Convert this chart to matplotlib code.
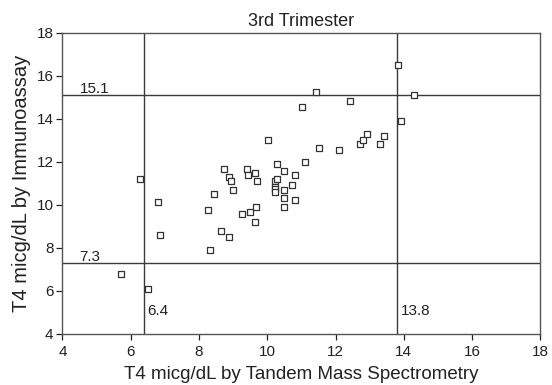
import matplotlib
matplotlib.use("Agg")
import matplotlib.pyplot as plt

plt.rcParams['font.family'] = ['Liberation Sans', 'DejaVu Sans']

# T4 by tandem mass spectrometry (x) vs immunoassay (y)
ms_t4 = [5.71, 6.50, 6.28, 6.81, 6.85, 8.26, 8.44, 8.65, 8.89, 8.33,
         8.72, 8.87, 8.94, 9.01, 9.42, 9.45, 9.63, 9.70, 9.25, 9.48,
         9.67, 9.63, 10.01, 10.29, 10.22, 10.29, 10.22, 10.22, 10.22, 10.50,
         10.50, 10.50, 10.50, 10.72, 10.82, 10.82, 11.03, 11.10, 11.42, 11.52,
         12.11, 12.42, 12.71, 12.80, 12.91, 13.29, 13.41, 13.82, 13.92, 14.31]
ia_t4 = [6.77, 6.09, 11.20, 10.12, 8.59, 9.77, 10.50, 8.80, 8.49, 7.91,
         11.69, 11.30, 11.10, 10.71, 11.69, 11.39, 11.50, 11.10, 9.58, 9.67,
         9.92, 9.19, 13.01, 11.89, 11.10, 11.20, 10.84, 10.73, 10.62, 11.59,
         10.71, 10.31, 9.92, 10.91, 11.39, 10.21, 14.53, 11.98, 15.23, 12.63,
         12.54, 14.83, 12.81, 13.01, 13.31, 12.81, 13.21, 16.50, 13.90, 15.12]

# reference range cut-offs
ms_low, ms_high = 6.4, 13.8
ia_low, ia_high = 7.3, 15.1

line_col = "#3a3a3a"
txt_col = "#222222"

fig = plt.figure(figsize=(5.52, 3.85), dpi=100)
ax = fig.add_axes([0.1132, 0.1325, 0.8656, 0.7825])

ax.scatter(ms_t4, ia_t4, marker="s", s=14, facecolors="white",
           edgecolors="#333333", linewidths=0.9, zorder=3)

ax.axvline(ms_low, color=line_col, lw=1.0)
ax.axvline(ms_high, color=line_col, lw=1.0)
ax.axhline(ia_low, color=line_col, lw=1.0)
ax.axhline(ia_high, color=line_col, lw=1.0)

ax.text(4.5, ia_high - 0.05, "15.1", fontsize=11, color=txt_col, va="bottom")
ax.text(4.5, ia_low - 0.05, "7.3", fontsize=11, color=txt_col, va="bottom")
ax.text(ms_low + 0.08, 5.05, "6.4", fontsize=11, color=txt_col, va="center")
ax.text(ms_high + 0.12, 5.05, "13.8", fontsize=11, color=txt_col, va="center")

ax.set_xlim(4, 18)
ax.set_ylim(4, 18)
ax.set_xticks(range(4, 19, 2))
ax.set_yticks(range(4, 19, 2))
ax.tick_params(labelsize=11, colors=txt_col, length=4, width=0.9)
ax.tick_params(axis="x", pad=4)
ax.tick_params(axis="y", pad=2.5)
for sp in ax.spines.values():
    sp.set_color("#555555")
    sp.set_linewidth(1.0)

ax.set_title("3rd Trimester", fontsize=13, color=txt_col, pad=5)
ax.set_xlabel("T4 micg/dL by Tandem Mass Spectrometry", fontsize=13.5,
              color=txt_col, labelpad=5)
ax.set_ylabel("T4 micg/dL by Immunoassay", fontsize=14.5, color=txt_col,
              labelpad=4)

fig.savefig("out.png", dpi=100)
